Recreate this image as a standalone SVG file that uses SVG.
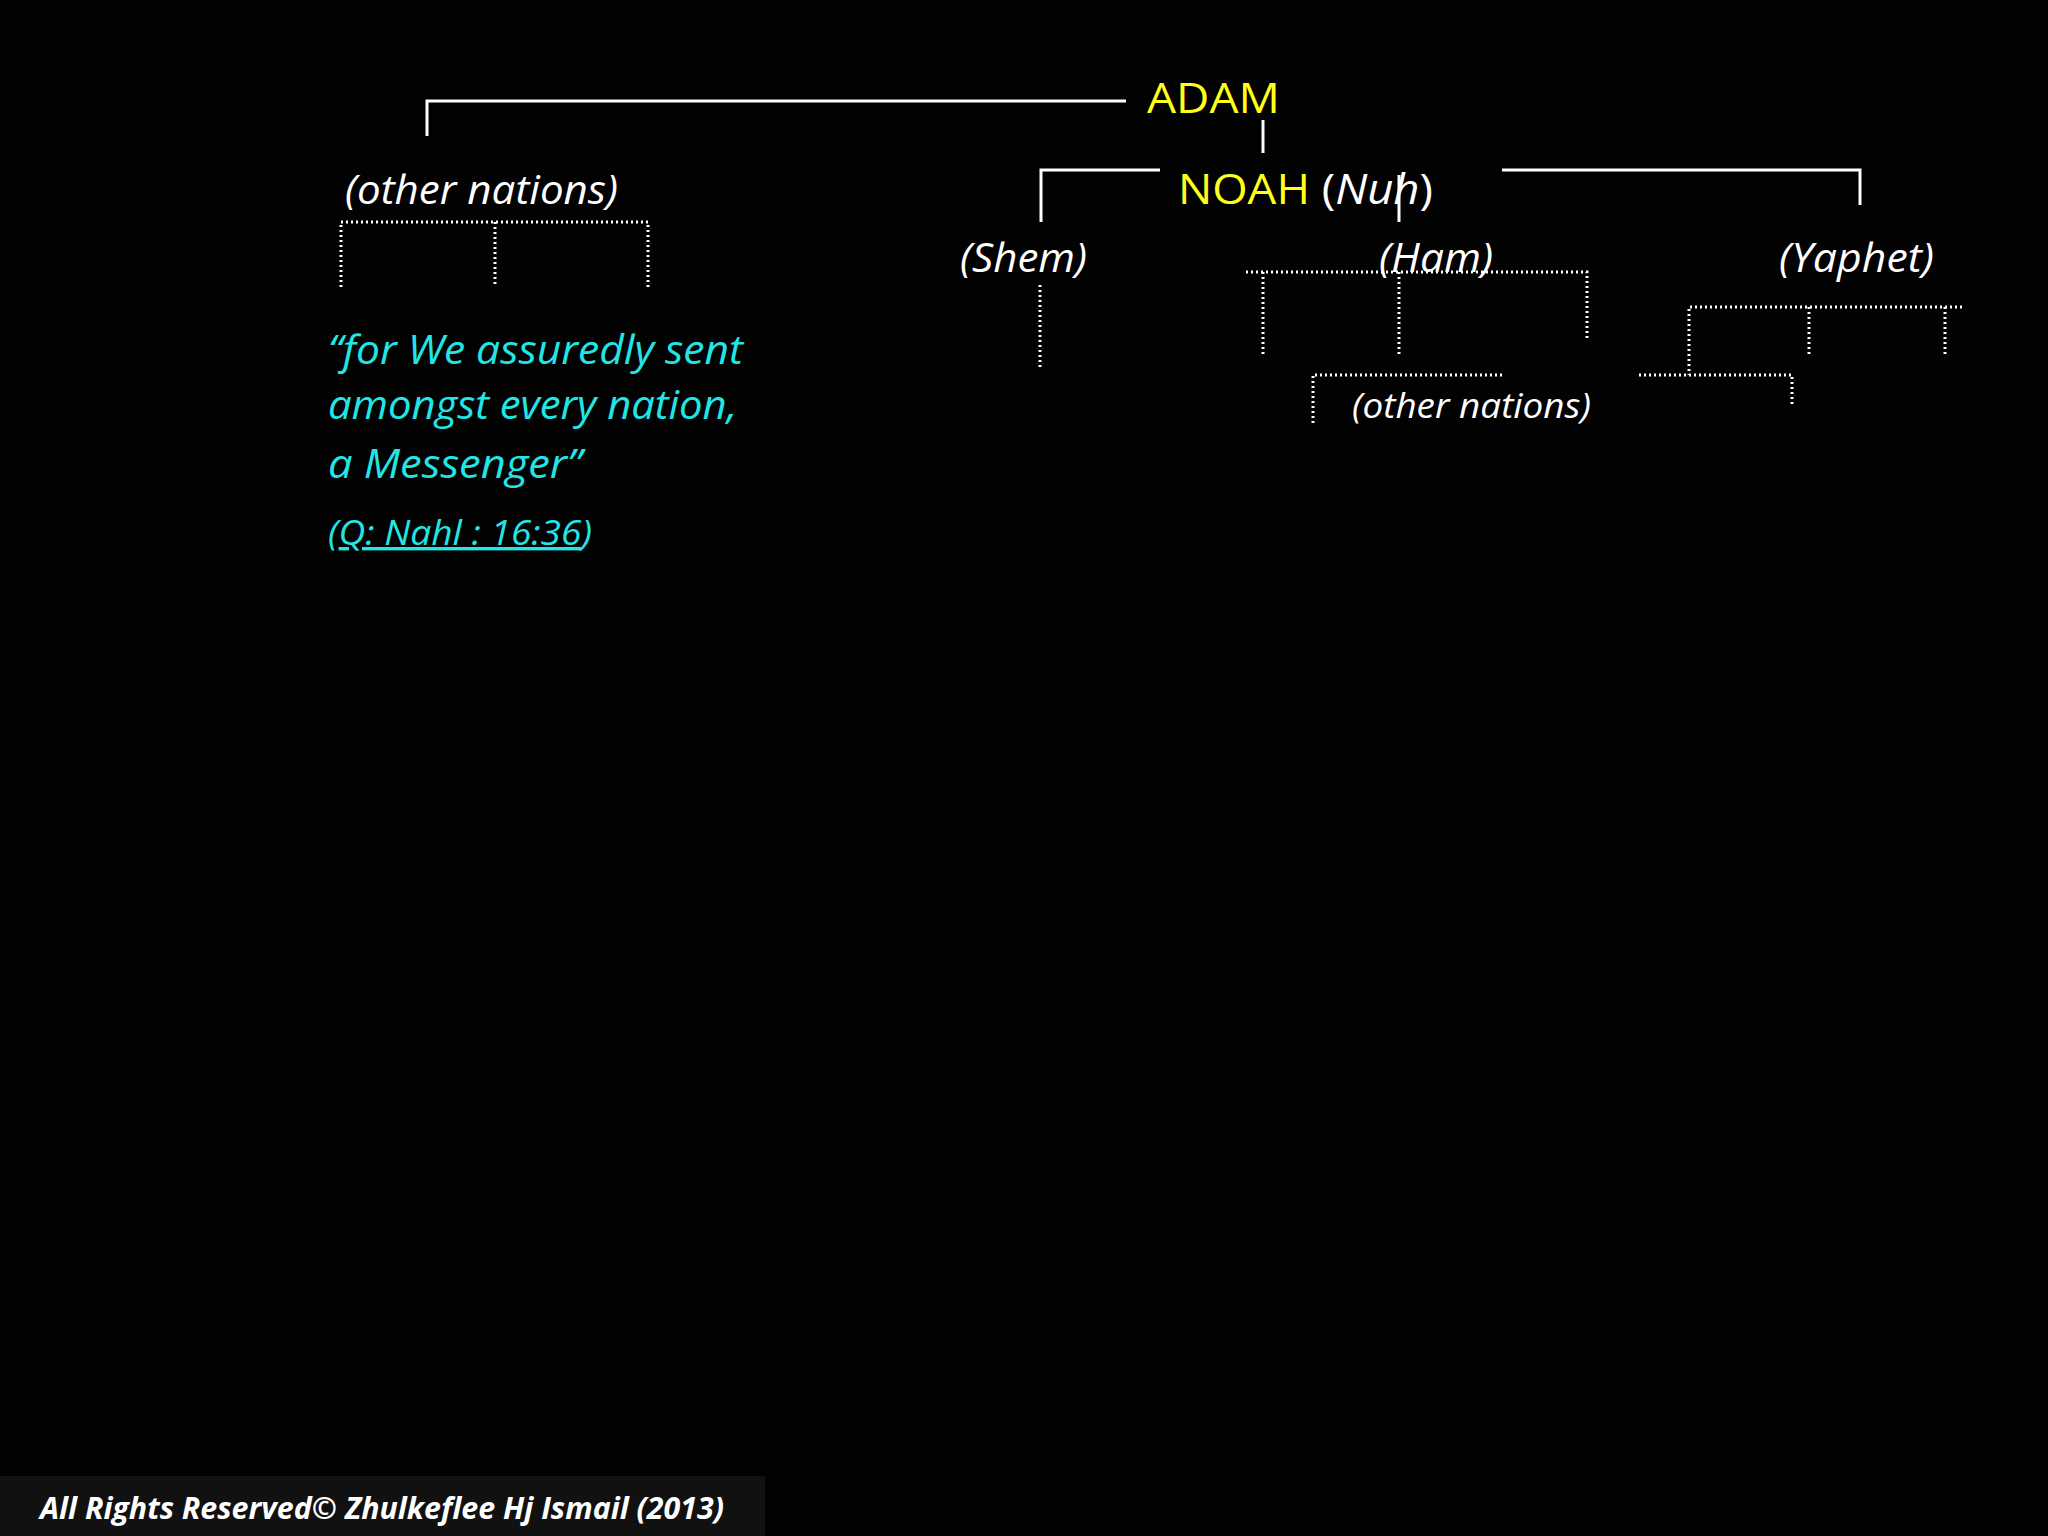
<svg xmlns="http://www.w3.org/2000/svg" width="2048" height="1536" viewBox="0 0 2048 1536">
<style>
text{font-family:"Open Sans","Noto Sans",sans-serif}
.s{stroke:#fff;stroke-width:3;fill:none}
.d{stroke:#fff;stroke-width:3;fill:none;stroke-dasharray:2 3}
.w{fill:#fff;font-style:italic}
.y{fill:#ffff1a}
.c{fill:#22e6e6;font-style:italic}
</style>
<rect width="2048" height="1536" fill="#030203"/>
<g id="connectors">
<path class="s" d="M1126 101H427V136"/>
<path class="s" d="M1263 120V153"/>
<path class="s" d="M1160 170H1041V222"/>
<path class="s" d="M1502 170H1860V205"/>
<path class="s" d="M1399 175V222"/>
<path class="d" d="M341 287V222H648V287M495 222V287"/>
<path class="d" d="M1040 285V370"/>
<path class="d" d="M1246 272H1587V340M1263 272V355M1399 272V355"/>
<path class="d" d="M1962 307H1689V375M1809 307V355M1945 307V355"/>
<path class="d" d="M1502 375H1313V424"/>
<path class="d" d="M1639 375H1792V407"/>
</g>
<g id="adam"><text class="y" x="1147" y="113" font-size="42" textLength="133" lengthAdjust="spacingAndGlyphs">ADAM</text></g>
<g id="noah"><text x="1178" y="204" font-size="42" textLength="255" lengthAdjust="spacingAndGlyphs"><tspan class="y">NOAH</tspan><tspan fill="#fff"> (</tspan><tspan class="w">Nuh</tspan><tspan fill="#fff">)</tspan></text></g>
<g id="other1"><text class="w" x="345" y="204" font-size="40" textLength="273" lengthAdjust="spacingAndGlyphs">(other nations)</text></g>
<g id="shem"><text class="w" x="960" y="272" font-size="40" textLength="127" lengthAdjust="spacingAndGlyphs">(Shem)</text></g>
<g id="ham"><text class="w" x="1379" y="272" font-size="40" textLength="114" lengthAdjust="spacingAndGlyphs">(Ham)</text></g>
<g id="yaphet"><text class="w" x="1779" y="272" font-size="40" textLength="155" lengthAdjust="spacingAndGlyphs">(Yaphet)</text></g>
<g id="other2"><text class="w" x="1352" y="418" font-size="35" textLength="239" lengthAdjust="spacingAndGlyphs">(other nations)</text></g>
<g id="quote">
<text class="c" x="328" y="364" font-size="40" textLength="415" lengthAdjust="spacingAndGlyphs">“for We assuredly sent</text>
<text class="c" x="328" y="419" font-size="40" textLength="409" lengthAdjust="spacingAndGlyphs">amongst every nation,</text>
<text class="c" x="328" y="478" font-size="40" textLength="254" lengthAdjust="spacingAndGlyphs">a Messenger”</text>
<text class="c" x="328" y="545" font-size="34" textLength="264" lengthAdjust="spacingAndGlyphs">(<tspan text-decoration="underline">Q: Nahl : 16:36</tspan>)</text>
</g>
<g id="footer">
<rect x="0" y="1476" width="765" height="60" fill="#111"/>
<text x="40" y="1519" font-size="30" font-weight="bold" font-style="italic" fill="#fff" textLength="684" lengthAdjust="spacingAndGlyphs">All Rights Reserved© Zhulkeflee Hj Ismail (2013)</text>
</g>
</svg>
